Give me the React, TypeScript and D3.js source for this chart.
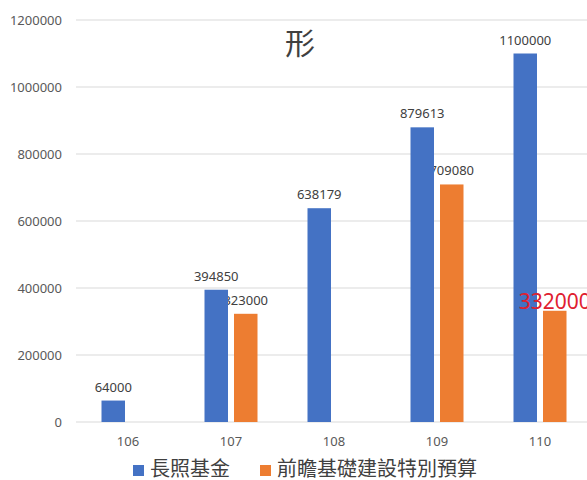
import React from "react";
import * as d3 from "d3";

const categories = ["106", "107", "108", "109", "110"];
const seriesNames = ["長照基金", "前瞻基礎建設特別預算"];
const longTermCare = [64000, 394850, 638179, 879613, 1100000];
const forwardInfra: (number | null)[] = [null, 323000, null, 709080, 332000];
const yTicks = [0, 200000, 400000, 600000, 800000, 1000000, 1200000];
const titleText = "形";

const W = 587;
const H = 480;
const colors = ["#4472C4", "#ED7D31"];
const numFont = "'Noto Sans', 'DejaVu Sans', sans-serif";
const cjkFont = "'Noto Sans CJK TC', 'Noto Sans', sans-serif";

export default function App() {
  const x = d3.scaleBand<string>().domain(categories).range([76.5, 591.5]).padding(0);
  const y = d3.scaleLinear().domain([0, 1200000]).range([422, 20]);
  const inner = d3.scaleBand<string>().domain(seriesNames).range([0, 53]).paddingInner(0.2034);
  const groupOffset = (c: string) => (x(c) as number) + x.bandwidth() / 2 - 26.5;

  const series = [longTermCare, forwardInfra];

  const bars: JSX.Element[] = [];
  series.forEach((vals, si) => {
    vals.forEach((v, i) => {
      if (v == null) return;
      const c = categories[i];
      bars.push(
        <rect
          key={`b-${si}-${i}`}
          x={groupOffset(c) + (inner(seriesNames[si]) as number)}
          y={y(v)}
          width={inner.bandwidth()}
          height={y(0) - y(v)}
          fill={colors[si]}
        />
      );
    });
  });

  const label = (v: number, si: number, i: number, special: boolean) => {
    const c = categories[i];
    const cx = groupOffset(c) + (inner(seriesNames[si]) as number) + inner.bandwidth() / 2;
    return (
      <text
        key={`l-${si}-${i}`}
        x={cx}
        y={special ? y(v) - 2 : y(v) - 9}
        textAnchor="middle"
        fontFamily={numFont}
        fontSize={special ? 21 : 13}
        fill={special ? "#E0202F" : "#404040"}
      >
        {v}
      </text>
    );
  };

  const orangeLabels: JSX.Element[] = [];
  let redLabel: JSX.Element | null = null;
  forwardInfra.forEach((v, i) => {
    if (v == null) return;
    if (i === categories.length - 1) redLabel = label(v, 1, i, true);
    else orangeLabels.push(label(v, 1, i, false));
  });
  const blueLabels = longTermCare.map((v, i) => label(v, 0, i, false));

  return (
    <svg
      width={W}
      height={H}
      style={{ position: "absolute", left: 0, top: 0, background: "#fff" }}
    >
      <rect x={0} y={0} width={W} height={H} fill="#fff" />
      {yTicks.map((t) => (
        <g key={t}>
          <line x1={76} x2={W} y1={y(t)} y2={y(t)} stroke="#D9D9D9" strokeWidth={1} />
          <text
            x={62}
            y={y(t) + 4.5}
            textAnchor="end"
            fontFamily={numFont}
            fontSize={13}
            fill="#595959"
          >
            {t}
          </text>
        </g>
      ))}
      {categories.map((c) => (
        <text
          key={c}
          x={(x(c) as number) + x.bandwidth() / 2}
          y={446}
          textAnchor="middle"
          fontFamily={numFont}
          fontSize={13}
          fill="#595959"
        >
          {c}
        </text>
      ))}
      <text
        x={300}
        y={54}
        textAnchor="middle"
        fontFamily={cjkFont}
        fontSize={30}
        fill="#404040"
      >
        {titleText}
      </text>
      {orangeLabels}
      {bars}
      {blueLabels}
      {redLabel}
      {seriesNames.map((n, i) => {
        const lx = [133, 260][i];
        return (
          <g key={n}>
            <rect x={lx} y={465} width={11} height={11} fill={colors[i]} />
            <text x={lx + 17} y={475.5} fontFamily={cjkFont} fontSize={20} fill="#404040">
              {n}
            </text>
          </g>
        );
      })}
    </svg>
  );
}
